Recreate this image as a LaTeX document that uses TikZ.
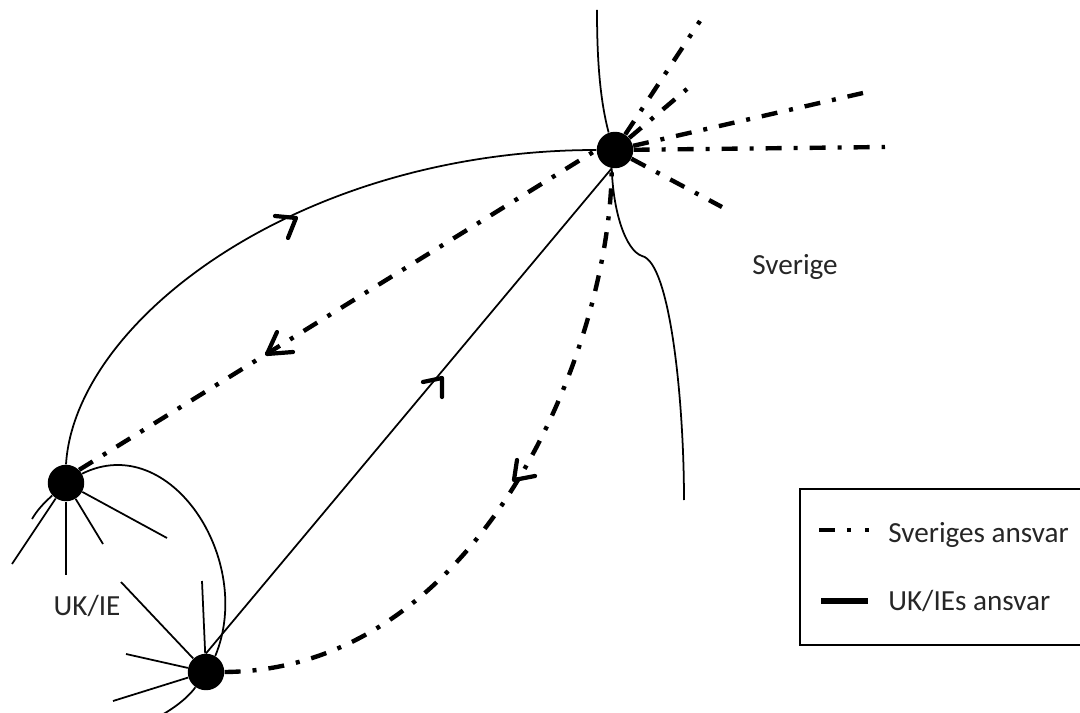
\documentclass[tikz,border=0pt]{standalone}
\usepackage{fontspec}
\setmainfont{Carlito}
\usetikzlibrary{positioning}

\begin{document}
\begin{tikzpicture}[
      x=0.02cm, y=-0.02cm,
      hub/.style={circle, fill=black, inner sep=0pt, minimum size=0.73cm},
      lab/.style={font=\fontsize{16.6}{20}\selectfont, inner sep=0pt, text=black!85},
      thin line/.style={line width=1pt},
      ansvar/.style={line width=2.5pt,
          dash pattern=on 0.32cm off 0.24cm on 0.08cm off 0.24cm},
      chev/.style={line width=2.4pt, line cap=round, line join=round},
    ]
    \useasboundingbox (0,0) rectangle (1080,713);

    % ---- Hubs ----
    \node[hub] (SE) at (615,150) {};
    \node[hub] (UK) at (66,483) {};
    \node[hub] (IE) at (206,672) {};

    % ---- Sweden's spokes ----
    \foreach \i/\pos in {1/{700,21}, 2/{687,89}, 3/{863,93}, 4/{885,147}, 5/{722,207}}{
        \coordinate (S\i) at (\pos);
        \draw[ansvar] (SE) -- (S\i);
      }

    % ---- UK spokes ----
    \foreach \i/\pos in {1/{167,538}, 2/{103,544}, 3/{66,575}, 4/{12,564}}{
        \coordinate (U\i) at (\pos);
        \draw[thin line] (UK) -- (U\i);
      }
    \coordinate (U5) at (32,519);
    \draw[thin line] (UK) .. controls (44,503) and (38,509) .. (U5);

    % ---- IE spokes ----
    \foreach \i/\pos in {1/{121,582}, 2/{202,581}, 3/{126,654}, 4/{113,701}}{
        \coordinate (I\i) at (\pos);
        \draw[thin line] (IE) -- (I\i);
      }
    \coordinate (I5) at (160,716);
    \draw[thin line] (IE) .. controls (190,695) and (178,706) .. (I5);

    % ---- Links between hubs ----
    \draw[thin line] (UK.north) .. controls (75,320) and (300,150) .. (SE.west);
    \draw[thin line] (UK.30) .. controls (170,430) and (255,560) .. (IE.60);
    \draw[thin line] (IE.north) -- (SE.-100);
    \draw[ansvar] (UK.45) -- (SE.west);
    \draw[ansvar] (IE.east) .. controls (480,670) and (610,350) .. (SE.-100);

    % ---- Border ----
    \coordinate (B1) at (597,10);
    \coordinate (B2) at (684,500);
    \draw[thin line] (B1) .. controls (597,60) and (600,100) .. (SE.110);
    \draw[thin line] (SE.-100) .. controls (613,210) and (625,250) .. (642,256)
        .. controls (670,262) and (684,400) .. (B2);

    % ---- Hand drawn arrowheads: tip/arm/arm ----
    \foreach \tip/\armA/\armB in {
        {296,218}/{275,216}/{288,238},
        {267,354}/{277,332}/{293,352},
        {442,378}/{423,382}/{442,397},
        {514,480}/{517,460}/{535,476}}{
        \draw[chev] (\armA) -- (\tip) -- (\armB);
      }

    % ---- Area labels ----
    \node[lab, anchor=base] (sverige) at (795,275) {Sverige};
    \node[lab, anchor=base] (ukie) at (87,615) {UK/IE};

    % ---- Legend ----
    \node[draw, line width=1.2pt, minimum width=6cm, minimum height=3.12cm, inner sep=0pt,
        anchor=north west] (legend) at (799,488) {};
    \node[lab, anchor=base west] (ansvarA) at (888,542) {Sveriges ansvar};
    \node[lab, anchor=base west] (ansvarB) at (888,610) {UK/IEs ansvar};
    \coordinate (kA) at (819,530);
    \coordinate (kD) at (880,530);
    \draw[line width=2.2pt, dash pattern=on 0.32cm off 0.24cm on 0.08cm off 0.28cm on 0.08cm off 1cm]
    (kA) -- (kD);
    \coordinate (kB) at (821,601);
    \coordinate (kC) at (868,601);
    \draw[line width=3.4pt] (kB) -- (kC);

  \end{tikzpicture}
\end{document}
